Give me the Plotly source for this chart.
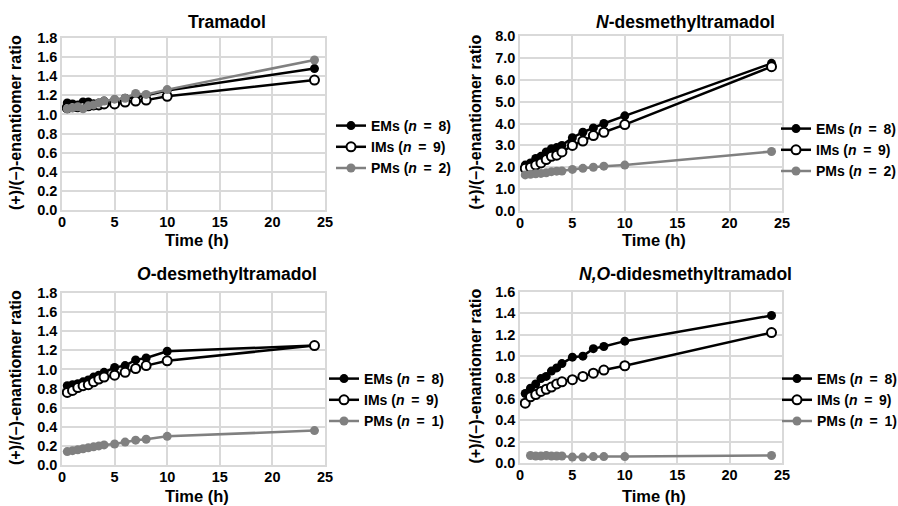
import plotly.graph_objects as go

time = [0.5, 1, 1.5, 2, 2.5, 3, 3.5, 4, 5, 6, 7, 8, 10, 24]
time_pm4 = [1, 1.5, 2, 2.5, 3, 3.5, 4, 5, 6, 7, 8, 10, 24]

titles = ["Tramadol", "<i>N</i>-desmethyltramadol", "<i>O</i>-desmethyltramadol", "<i>N,O</i>-didesmethyltramadol"]
x_title = "Time (h)"
y_title = "(+)/(–)-enantiomer ratio"

tram_em = [1.12, 1.11, 1.10, 1.13, 1.13, 1.11, 1.12, 1.14, 1.15, 1.17, 1.18, 1.20, 1.25, 1.48]
tram_im = [1.07, 1.08, 1.08, 1.08, 1.09, 1.10, 1.10, 1.11, 1.11, 1.13, 1.14, 1.15, 1.19, 1.36]
tram_pm = [1.06, 1.07, 1.08, 1.06, 1.09, 1.10, 1.12, 1.14, 1.16, 1.17, 1.22, 1.21, 1.26, 1.57]

ndm_em = [2.10, 2.20, 2.40, 2.50, 2.70, 2.85, 2.90, 3.00, 3.35, 3.60, 3.80, 4.00, 4.35, 6.75]
ndm_im = [1.95, 2.00, 2.10, 2.20, 2.35, 2.50, 2.55, 2.70, 3.00, 3.20, 3.45, 3.60, 3.95, 6.60]
ndm_pm = [1.65, 1.68, 1.70, 1.72, 1.75, 1.80, 1.82, 1.83, 1.90, 1.95, 2.00, 2.05, 2.10, 2.72]

odm_em = [0.83, 0.84, 0.85, 0.87, 0.89, 0.92, 0.94, 0.97, 1.02, 1.04, 1.10, 1.12, 1.19, 1.25]
odm_im = [0.76, 0.78, 0.81, 0.83, 0.84, 0.87, 0.90, 0.92, 0.94, 0.97, 1.01, 1.04, 1.09, 1.25]
odm_pm = [0.14, 0.15, 0.16, 0.17, 0.18, 0.19, 0.20, 0.21, 0.22, 0.24, 0.26, 0.27, 0.30, 0.36]

nodm_em = [0.65, 0.70, 0.74, 0.79, 0.81, 0.86, 0.89, 0.93, 0.99, 1.00, 1.07, 1.09, 1.14, 1.38]
nodm_im = [0.56, 0.62, 0.64, 0.67, 0.69, 0.71, 0.74, 0.76, 0.78, 0.81, 0.84, 0.87, 0.91, 1.22]
nodm_pm = [0.07, 0.065, 0.065, 0.07, 0.065, 0.065, 0.065, 0.055, 0.055, 0.06, 0.06, 0.06, 0.07]

pm_n = [2, 2, 1, 1]
y_max = [1.8, 8.0, 1.8, 1.6]
y_dtick = [0.2, 1.0, 0.2, 0.2]

panels = [
    (time, tram_em, time, tram_im, time, tram_pm),
    (time, ndm_em, time, ndm_im, time, ndm_pm),
    (time, odm_em, time, odm_im, time, odm_pm),
    (time, nodm_em, time, nodm_im, time_pm4, nodm_pm),
]

W, H = 898, 506
# plot area pixel boxes (left, right, top, bottom)
boxes = [(62, 325, 38, 210), (520, 782, 36, 211), (62, 325, 293, 465), (520, 782, 292, 463)]
legend_pos = [(331, 110), (776, 113), (324, 363), (777, 363)]
title_pos = [(227, 22), (685, 22), (227, 274), (685, 274)]
ytitle_x = [15, 475, 15, 475]
xtitle_y = [240, 240, 496, 496]

FONT = "Liberation Sans"
GRID = "#d9d9d9"
GRAY = "#808080"
SP = "\u00a0\u2009"


def lab(g, n):
    return f"{g} (<i>n</i>{SP}={SP}{n})"


fig = go.Figure()
for i, (xe, ye, xi, yi, xp, yp) in enumerate(panels):
    k = "" if i == 0 else str(i + 1)
    xa, ya = "x" + k, "y" + k
    lg = "legend" + k
    common = dict(mode="lines+markers", xaxis=xa, yaxis=ya, legend=lg)
    fig.add_trace(go.Scatter(x=xe, y=ye, name=lab("EMs", 8), legendgroup=f"em{i}",
                             line=dict(color="black", width=2.5),
                             marker=dict(symbol="circle", size=9, color="black"), **common))
    fig.add_trace(go.Scatter(x=xi, y=yi, name=lab("IMs", 9), legendgroup=f"im{i}",
                             line=dict(color="black", width=2.5),
                             marker=dict(symbol="circle", size=9, color="white",
                                         line=dict(color="black", width=2)), **common))
    fig.add_trace(go.Scatter(x=xp, y=yp, name=lab("PMs", pm_n[i]), legendgroup=f"pm{i}",
                             line=dict(color=GRAY, width=2.5),
                             marker=dict(symbol="circle", size=9, color=GRAY), **common))

    l, r, t, b = boxes[i]
    axis_font = dict(family=FONT, size=14.5, color="black", weight="bold")
    fig.update_layout(**{
        "xaxis" + k: dict(domain=[l / W, r / W], anchor=ya, range=[0, 25], dtick=5,
                          showgrid=True, gridcolor=GRID, gridwidth=1.5, showline=True,
                          linecolor=GRID, linewidth=1.5, mirror=True, zeroline=False,
                          ticks="", tickfont=axis_font, automargin=False, ticklabelstandoff=-2),
        "yaxis" + k: dict(domain=[1 - b / H, 1 - t / H], anchor=xa, range=[0, y_max[i]],
                          dtick=y_dtick[i], tickformat=".1f",
                          showgrid=True, gridcolor=GRID, gridwidth=1.5, showline=True,
                          linecolor=GRID, linewidth=1.5, mirror=True, zeroline=False,
                          ticks="", tickfont=axis_font, automargin=False),
        lg: dict(x=legend_pos[i][0] / W, y=1 - legend_pos[i][1] / H, xanchor="left", yanchor="top",
                 xref="paper", yref="paper", bgcolor="rgba(0,0,0,0)",
                 font=dict(family=FONT, size=14, color="black", weight="bold"),
                 itemwidth=30, tracegroupgap=8, traceorder="normal"),
    })
    fig.add_annotation(text=titles[i], x=title_pos[i][0] / W, y=1 - title_pos[i][1] / H,
                       xref="paper", yref="paper", showarrow=False, xanchor="center", yanchor="middle",
                       font=dict(family=FONT, size=17.5, color="black", weight="bold"))
    fig.add_annotation(text=x_title, x=((l + r) / 2 + 3) / W, y=1 - xtitle_y[i] / H,
                       xref="paper", yref="paper", showarrow=False, xanchor="center", yanchor="middle",
                       font=dict(family=FONT, size=16.5, color="black", weight="bold"))
    fig.add_annotation(text=y_title, x=ytitle_x[i] / W, y=1 - ((t + b) / 2 - 1) / H, textangle=-90,
                       xref="paper", yref="paper", showarrow=False, xanchor="center", yanchor="middle",
                       font=dict(family=FONT, size=16, color="black", weight="bold"))

fig.update_layout(width=W, height=H, margin=dict(l=0, r=0, t=0, b=0, autoexpand=False),
                  paper_bgcolor="white", plot_bgcolor="white", showlegend=True)
fig.write_html("out.html", config={"displayModeBar": False},
               post_script="document.body.style.margin='0px';document.body.style.overflow='hidden';")
